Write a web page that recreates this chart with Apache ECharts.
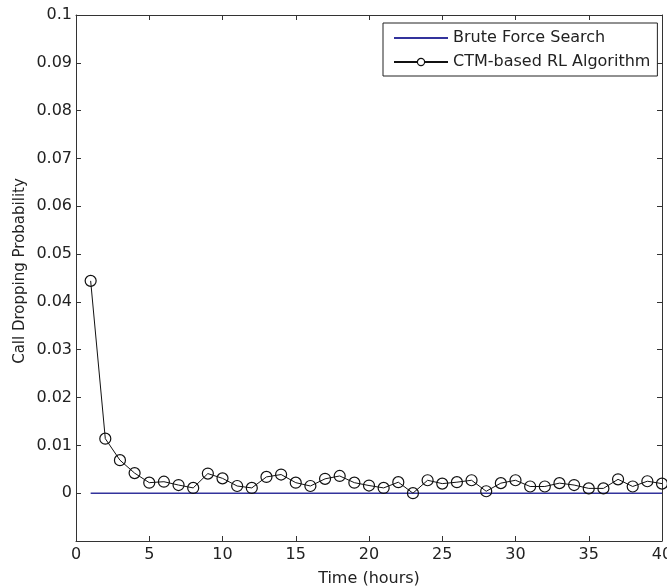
<!DOCTYPE html>
<html>
<head>
<meta charset="utf-8">
<script src="https://cdn.jsdelivr.net/npm/echarts@6/dist/echarts.min.js"></script>
<style>
html,body{margin:0;padding:0;background:#fff;}
#chart{width:667px;height:588px;}
</style>
</head>
<body>
<div id="chart"></div>
<script>
const hours = [1,2,3,4,5,6,7,8,9,10,11,12,13,14,15,16,17,18,19,20,21,22,23,24,25,26,27,28,29,30,31,32,33,34,35,36,37,38,39,40];
const bruteForce = [0,0,0,0,0,0,0,0,0,0,0,0,0,0,0,0,0,0,0,0,0,0,0,0,0,0,0,0,0,0,0,0,0,0,0,0,0,0,0,0];
const ctmRL = [0.0444,0.0114,0.0069,0.0042,0.0022,0.0024,0.0017,0.0011,0.0041,0.0031,
               0.0015,0.0011,0.0034,0.0039,0.0022,0.0015,0.0030,0.0036,0.0022,0.0016,
               0.0011,0.0023,0.0000,0.0027,0.0020,0.0023,0.0027,0.0004,0.0021,0.0027,
               0.0014,0.0014,0.0021,0.0017,0.0010,0.0010,0.0029,0.0014,0.0025,0.0020];
const seriesNames = ['Brute Force Search','CTM-based RL Algorithm'];
const xTitle = 'Time (hours)';
const yTitle = 'Call Dropping Probability';

const FONT = 'DejaVu Sans';
const axisColor = '#333';
const textColor = '#222';

function pairs(xs, ys){ return xs.map((x,i)=>[x, ys[i]]); }

const chart = echarts.init(document.getElementById('chart'), null, {renderer:'canvas'});
const xBase = {
  type:'value', min:0, max:40, interval:5,
  axisLine:{show:true, onZero:false, lineStyle:{color:axisColor, width:1}},
  axisTick:{show:true, inside:true, length:5, lineStyle:{color:axisColor}},
  splitLine:{show:false}
};
const yBase = {
  type:'value', min:-0.01, max:0.1, interval:0.01,
  axisLine:{show:true, onZero:false, lineStyle:{color:axisColor, width:1}},
  axisTick:{show:true, inside:true, length:5, lineStyle:{color:axisColor}},
  splitLine:{show:false}
};
chart.setOption({
  animation:false,
  backgroundColor:'#fff',
  grid:{left:76, right:5, top:15, bottom:47, containLabel:false, outerBoundsMode:'none'},
  legend:{
    left:383, top:23, orient:'vertical',
    backgroundColor:'#fff', borderColor:'#222', borderWidth:1,
    padding:[7,7,6,10], itemGap:8, itemWidth:54, itemHeight:9,
    textStyle:{fontFamily:FONT, fontSize:16, color:textColor},
    data:[
      {name:seriesNames[0], itemStyle:{color:'rgba(0,0,0,0)', borderWidth:0}},
      {name:seriesNames[1], itemStyle:{color:'#fff', borderColor:'#111', borderWidth:1.2}}
    ]
  },
  xAxis:[
    Object.assign({}, xBase, {
      position:'bottom',
      axisLabel:{show:true, margin:6, fontFamily:FONT, fontSize:16, color:textColor},
      name:xTitle, nameLocation:'middle', nameGap:30, nameMoveOverlap:false,
      nameTextStyle:{fontFamily:FONT, fontSize:16, color:textColor}
    }),
    Object.assign({}, xBase, {position:'top', axisLabel:{show:false}})
  ],
  yAxis:[
    Object.assign({}, yBase, {
      position:'left',
      axisLabel:{show:true, margin:4, fontFamily:FONT, fontSize:16, color:textColor,
        formatter:function(v){ if (v < -1e-9) return ''; return String(+v.toFixed(2)); }},
      name:yTitle, nameLocation:'middle', nameGap:48, nameRotate:90, nameMoveOverlap:false,
      nameTextStyle:{fontFamily:FONT, fontSize:15, color:textColor, padding:[0,0,0,14]}
    }),
    Object.assign({}, yBase, {position:'right', axisLabel:{show:false}})
  ],
  series:[
    {
      name:seriesNames[0], type:'line', xAxisIndex:0, yAxisIndex:0,
      data:pairs(hours, bruteForce), symbol:'none',
      lineStyle:{color:'#33339c', width:1.5}, itemStyle:{color:'#33339c'}, z:2
    },
    {
      name:seriesNames[1], type:'line', xAxisIndex:0, yAxisIndex:0,
      data:pairs(hours, ctmRL), symbol:'circle', symbolSize:11, showAllSymbol:true,
      lineStyle:{color:'#111', width:1},
      itemStyle:{color:'rgba(0,0,0,0)', borderColor:'#111', borderWidth:1.2},
      clip:false, z:3
    }
  ]
});
</script>
</body>
</html>
